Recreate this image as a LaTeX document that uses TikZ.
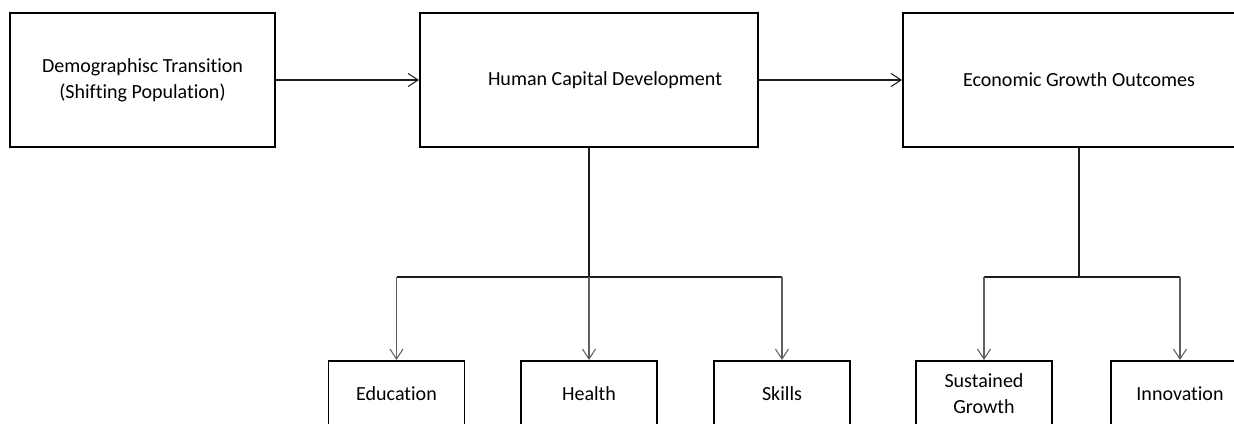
\documentclass[tikz,border=0pt]{standalone}
\usepackage{fontspec}
\setmainfont{Carlito}[Ligatures={NoCommon}]
\usepackage{tikz}
\usetikzlibrary{positioning,arrows.meta}
\definecolor{borde}{RGB}{0,0,0}
\definecolor{linea}{RGB}{30,30,30}
\definecolor{lineagris}{RGB}{95,95,95}

\begin{document}
\begin{tikzpicture}[
  x=0.2mm, y=-0.2mm,
  font=\fontsize{11.4}{14.6}\selectfont,
  caja/.style={draw=borde, line width=1.1pt, fill=white, align=center,
               minimum width=53mm, minimum height=26.8mm, inner sep=2pt},
  cajamedia/.style={caja, minimum width=67.6mm},
  hijo/.style={caja, minimum width=27.2mm, minimum height=13mm},
  flecha/.style={draw=linea, line width=0.6pt,
                 -{Straight Barb[length=2mm, width=2.6mm]}},
  rama/.style={draw=lineagris, line width=0.6pt,
               -{Straight Barb[length=2mm, width=2.6mm]}},
  barra/.style={draw=linea, line width=0.6pt},
]
\useasboundingbox (0,0) rectangle (1234,423);
\clip (0,0) rectangle (1234,423);
% ---- Fila superior --------------------------------------------------------
\node[caja] (demo) at (142.5,80) {Demographisc Transition\\(Shifting Population)};
\node[cajamedia] (capital) at (589,80)
  {\hspace*{6.4mm}Human Capital Development};
\node[caja, minimum width=70.4mm] (econ) at (1079,80) {Economic Growth Outcomes};
\draw[flecha] (demo) -- (capital);
\draw[flecha] (capital) -- (econ);
% ---- Ramas de capital humano ------------------------------------------------
\node[hijo, anchor=north] (edu) at (396.5,360) {Education};
\node[hijo, anchor=north] (salud) at (589,360) {Health};
\node[hijo, anchor=north] (habil) at (782,360) {Skills};
\coordinate (nudoA) at (589,277);
\coordinate (izqA) at (edu |- nudoA);
\coordinate (derA) at (habil |- nudoA);
\draw[barra] (capital) -- (nudoA);
\draw[barra] (izqA) -- (derA);
\foreach \h in {edu, salud, habil} {
  \draw[rama] (\h |- nudoA) -- (\h);
}
% ---- Ramas de crecimiento ---------------------------------------------------
\node[hijo, anchor=north] (sost) at (984,360) {Sustained\\Growth};
\node[hijo, anchor=north, minimum width=27.6mm] (innov) at (1180,360) {Innovation};
\coordinate (nudoB) at (1079,277);
\coordinate (izqB) at (sost |- nudoB);
\coordinate (derB) at (innov |- nudoB);
\draw[barra] (econ) -- (nudoB);
\draw[barra] (izqB) -- (derB);
\foreach \h in {sost, innov} {
  \draw[rama] (\h |- nudoB) -- (\h);
}
\end{tikzpicture}
\end{document}
